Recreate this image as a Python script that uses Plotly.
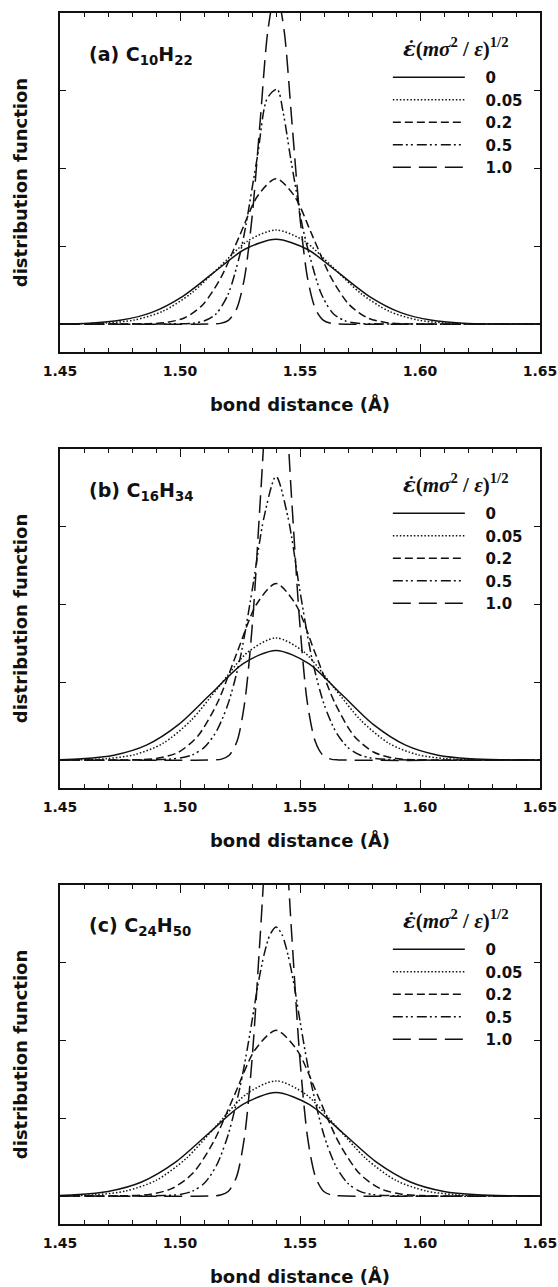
import plotly.graph_objects as go

# Bond-length distribution curves, one set per alkane, one curve per strain rate.
RATES = ["0", "0.05", "0.2", "0.5", "1.0"]
PANEL_LABELS = ["(a) C<sub>10</sub>H<sub>22</sub>",
                "(b) C<sub>16</sub>H<sub>34</sub>",
                "(c) C<sub>24</sub>H<sub>50</sub>"]
X_TICKS = [1.45, 1.50, 1.55, 1.60, 1.65]
X_TICK_TEXT = ["1.45", "1.50", "1.55", "1.60", "1.65"]
Y_TICKS = [0, 1, 2, 3]

# (a) C10H22
A_X_0 = [1.45, 1.462, 1.475, 1.488, 1.501, 1.514, 1.527, 1.54, 1.553, 1.566, 1.579, 1.592, 1.605, 1.618, 1.631, 1.65]
A_Y_0 = [0.003, 0.012, 0.048, 0.147, 0.354, 0.661, 0.962, 1.09, 0.962, 0.661, 0.354, 0.147, 0.048, 0.012, 0.002, 0.0]
A_X_1 = [1.45, 1.4574, 1.4692, 1.481, 1.4928, 1.5046, 1.5164, 1.5282, 1.54, 1.5518, 1.5636, 1.5754, 1.5872, 1.599, 1.6108, 1.6226, 1.65]
A_Y_1 = [0.001, 0.003, 0.013, 0.053, 0.164, 0.393, 0.734, 1.068, 1.21, 1.068, 0.734, 0.393, 0.164, 0.053, 0.013, 0.003, 0.0]
A_X_2 = [1.45, 1.4792, 1.4868, 1.4944, 1.502, 1.5096, 1.5172, 1.5248, 1.5324, 1.54, 1.5476, 1.5552, 1.5628, 1.5704, 1.578, 1.5856, 1.5932, 1.6008, 1.65]
A_Y_2 = [0.0, 0.001, 0.004, 0.021, 0.082, 0.253, 0.607, 1.134, 1.65, 1.87, 1.65, 1.134, 0.607, 0.253, 0.082, 0.021, 0.004, 0.001, 0.0]
A_X_3 = [1.45, 1.495, 1.505, 1.51, 1.515, 1.52, 1.525, 1.5275, 1.53, 1.5325, 1.5363, 1.5405, 1.543, 1.546, 1.5485, 1.551, 1.554, 1.559, 1.564, 1.569, 1.574, 1.584, 1.65]
A_Y_3 = [0.0, 0.002, 0.01, 0.04, 0.13, 0.38, 0.90, 1.28, 1.74, 2.20, 2.90, 3.02, 2.72, 2.15, 1.70, 1.26, 0.88, 0.38, 0.13, 0.04, 0.01, 0.002, 0.0]
A_X_4 = [1.45, 1.5136, 1.5169, 1.5202, 1.5235, 1.5268, 1.5301, 1.5334, 1.5367, 1.54, 1.5433, 1.5466, 1.5499, 1.5532, 1.5565, 1.5598, 1.5631, 1.5664, 1.65]
A_Y_4 = [0.0, 0.001, 0.009, 0.048, 0.189, 0.582, 1.396, 2.608, 3.795, 4.30, 3.795, 2.608, 1.396, 0.582, 0.189, 0.048, 0.009, 0.001, 0.0]

# (b) C16H34
B_X_0 = [1.45, 1.459, 1.4725, 1.486, 1.4995, 1.513, 1.5265, 1.54, 1.5535, 1.567, 1.5805, 1.594, 1.6075, 1.621, 1.6345, 1.65]
B_Y_0 = [0.005, 0.016, 0.062, 0.191, 0.458, 0.855, 1.244, 1.41, 1.244, 0.855, 0.458, 0.191, 0.062, 0.016, 0.003, 0.0]
B_X_1 = [1.45, 1.4574, 1.4692, 1.481, 1.4928, 1.5046, 1.5164, 1.5282, 1.54, 1.5518, 1.5636, 1.5754, 1.5872, 1.599, 1.6108, 1.6226, 1.65]
B_Y_1 = [0.001, 0.003, 0.017, 0.069, 0.212, 0.510, 0.952, 1.386, 1.57, 1.386, 0.952, 0.510, 0.212, 0.069, 0.017, 0.003, 0.0]
B_X_2 = [1.45, 1.4748, 1.483, 1.4911, 1.4993, 1.5074, 1.5156, 1.5237, 1.5319, 1.54, 1.5482, 1.5563, 1.5645, 1.5726, 1.5808, 1.5889, 1.597, 1.6052, 1.65]
B_Y_2 = [0.0, 0.001, 0.005, 0.025, 0.100, 0.307, 0.737, 1.377, 2.003, 2.27, 2.003, 1.377, 0.737, 0.307, 0.100, 0.025, 0.005, 0.001, 0.0]
B_X_3 = [1.45, 1.49, 1.50, 1.505, 1.51, 1.515, 1.52, 1.525, 1.53, 1.535, 1.54, 1.545, 1.55, 1.555, 1.56, 1.565, 1.57, 1.575, 1.58, 1.59, 1.65]
B_Y_3 = [0.0, 0.004, 0.025, 0.065, 0.16, 0.36, 0.72, 1.30, 2.17, 3.12, 3.65, 3.12, 2.17, 1.30, 0.72, 0.36, 0.16, 0.065, 0.025, 0.004, 0.0]
B_X_4 = [1.45, 1.514, 1.5173, 1.5205, 1.5238, 1.527, 1.5303, 1.5335, 1.5368, 1.54, 1.5433, 1.5465, 1.5498, 1.553, 1.5563, 1.5595, 1.5628, 1.566, 1.65]
B_Y_4 = [0.0, 0.002, 0.012, 0.062, 0.244, 0.751, 1.802, 3.366, 4.898, 5.55, 4.898, 3.366, 1.802, 0.751, 0.244, 0.062, 0.012, 0.002, 0.0]

# (c) C24H50
C_X_0 = [1.45, 1.456, 1.47, 1.484, 1.498, 1.512, 1.526, 1.54, 1.554, 1.568, 1.582, 1.596, 1.61, 1.624, 1.638, 1.65]
C_Y_0 = [0.008, 0.015, 0.058, 0.180, 0.432, 0.807, 1.174, 1.33, 1.174, 0.807, 0.432, 0.180, 0.058, 0.015, 0.003, 0.0]
C_X_1 = [1.45, 1.4525, 1.465, 1.4775, 1.49, 1.5025, 1.515, 1.5275, 1.54, 1.5525, 1.565, 1.5775, 1.59, 1.6025, 1.615, 1.6275, 1.65]
C_Y_1 = [0.002, 0.003, 0.016, 0.065, 0.200, 0.481, 0.898, 1.306, 1.48, 1.306, 0.898, 0.481, 0.200, 0.065, 0.016, 0.003, 0.0]
C_X_2 = [1.45, 1.4704, 1.4791, 1.4878, 1.4965, 1.5052, 1.5139, 1.5226, 1.5313, 1.54, 1.5487, 1.5574, 1.5661, 1.5748, 1.5835, 1.5922, 1.6009, 1.6096, 1.65]
C_Y_2 = [0.0, 0.001, 0.005, 0.024, 0.094, 0.288, 0.692, 1.292, 1.880, 2.13, 1.880, 1.292, 0.692, 0.288, 0.094, 0.024, 0.005, 0.001, 0.0]
C_X_3 = [1.45, 1.49, 1.50, 1.505, 1.51, 1.515, 1.52, 1.525, 1.5275, 1.53, 1.5325, 1.535, 1.5375, 1.54, 1.5425, 1.545, 1.5475, 1.55, 1.5525, 1.555, 1.56, 1.565, 1.57, 1.575, 1.58, 1.59, 1.65]
C_Y_3 = [0.0, 0.003, 0.02, 0.06, 0.16, 0.38, 0.78, 1.40, 1.80, 2.25, 2.72, 3.10, 3.36, 3.46, 3.36, 3.10, 2.72, 2.25, 1.80, 1.40, 0.78, 0.38, 0.16, 0.06, 0.02, 0.003, 0.0]
C_X_4 = [1.45, 1.5136, 1.5169, 1.5202, 1.5235, 1.5268, 1.5301, 1.5334, 1.5367, 1.54, 1.5433, 1.5466, 1.5499, 1.5532, 1.5565, 1.5598, 1.5631, 1.5664, 1.65]
C_Y_4 = [0.0, 0.002, 0.012, 0.061, 0.241, 0.744, 1.786, 3.336, 4.854, 5.5, 4.854, 3.336, 1.786, 0.744, 0.241, 0.061, 0.012, 0.002, 0.0]

PANELS = [
    ([A_X_0, A_X_1, A_X_2, A_X_3, A_X_4], [A_Y_0, A_Y_1, A_Y_2, A_Y_3, A_Y_4]),
    ([B_X_0, B_X_1, B_X_2, B_X_3, B_X_4], [B_Y_0, B_Y_1, B_Y_2, B_Y_3, B_Y_4]),
    ([C_X_0, C_X_1, C_X_2, C_X_3, C_X_4], [C_Y_0, C_Y_1, C_Y_2, C_Y_3, C_Y_4]),
]

DASHES = ["solid", "1.5px,2px", "8px,4px", "10px,3px,2px,3px,2px,4px", "18px,8px"]
Y_DOMAINS = [[0.72, 1.0], [0.36, 0.64], [0.0, 0.28]]
LEGEND_TOPS = [0.9604, 0.6003, 0.2403]

SANS = "DejaVu Sans"
SERIF = "Liberation Serif"
INK = "#111111"

RATE_TITLE = ("<span style='font-family:DejaVu Serif'><i>\u03b5\u0307</i></span>"
              "(<i>m\u03c3</i><sup>2</sup> / <i>\u03b5</i>)<sup>1/2</sup>")

fig = go.Figure()
for p, (xs, ys) in enumerate(PANELS):
    sfx = "" if p == 0 else str(p + 1)
    for k in range(len(RATES)):
        fig.add_trace(go.Scatter(
            x=xs[k], y=ys[k], mode="lines",
            line=dict(color=INK, width=1.5, dash=DASHES[k], shape="spline", smoothing=0.8),
            name="\u00a0\u00a0\u00a0" + RATES[k],
            xaxis="x" + sfx, yaxis="y" + sfx,
            legend="legend" + sfx,
        ))

layout = dict(
    width=558, height=1287,
    margin=dict(l=60, r=18, t=13, b=63, autoexpand=False),
    paper_bgcolor="white", plot_bgcolor="white",
    font=dict(family=SANS, color=INK),
    annotations=[],
)

for p in range(3):
    sfx = "" if p == 0 else str(p + 1)
    layout["xaxis" + sfx] = dict(
        domain=[0, 1], anchor="y" + sfx, range=[1.45, 1.65], automargin=False,
        tickmode="array", tickvals=X_TICKS, ticktext=X_TICK_TEXT,
        ticks="inside", ticklen=8, tickwidth=1.2, tickcolor=INK,
        minor=dict(tick0=1.45, dtick=0.01, ticks="inside", ticklen=4, tickwidth=1, tickcolor=INK),
        showline=True, linecolor=INK, linewidth=1.8, mirror="ticks",
        showgrid=False, zeroline=False,
        ticklabelstandoff=5, ticklabeloverflow="allow",
        tickfont=dict(family=SANS, size=14, weight="bold", color=INK),
        title=dict(text="bond distance (\u00c5)", standoff=21,
                   font=dict(family=SANS, size=18, weight="bold", color=INK)),
    )
    layout["yaxis" + sfx] = dict(
        domain=Y_DOMAINS[p], anchor="x" + sfx, range=[-0.36, 4.0], automargin=False,
        tickmode="array", tickvals=Y_TICKS, showticklabels=False,
        ticks="inside", ticklen=6, tickwidth=1.2, tickcolor=INK,
        showline=True, linecolor=INK, linewidth=1.8, mirror="ticks",
        showgrid=False, zeroline=False,
        title=dict(text="distribution function", standoff=26,
                   font=dict(family=SANS, size=18, weight="bold", color=INK)),
    )
    layout["legend" + sfx] = dict(
        x=0.683, y=LEGEND_TOPS[p], xanchor="left", yanchor="top",
        xref="paper", yref="paper",
        bgcolor="rgba(0,0,0,0)", borderwidth=0, itemwidth=72,
        font=dict(family=SANS, size=15, weight="bold", color=INK),
        traceorder="normal",
    )
    layout["annotations"].append(dict(
        text=PANEL_LABELS[p], xref="x" + sfx + " domain", yref="y" + sfx + " domain",
        x=0.056, y=0.876, xanchor="left", yanchor="middle", showarrow=False,
        font=dict(family=SANS, size=19, weight="bold", color=INK),
    ))
    layout["annotations"].append(dict(
        text=RATE_TITLE,
        xref="x" + sfx + " domain", yref="y" + sfx + " domain",
        x=0.826, y=0.897, xanchor="center", yanchor="middle", showarrow=False,
        font=dict(family=SERIF, size=21, weight="bold", color=INK),
    ))

fig.update_layout(**layout)
fig.write_html("out.html")
